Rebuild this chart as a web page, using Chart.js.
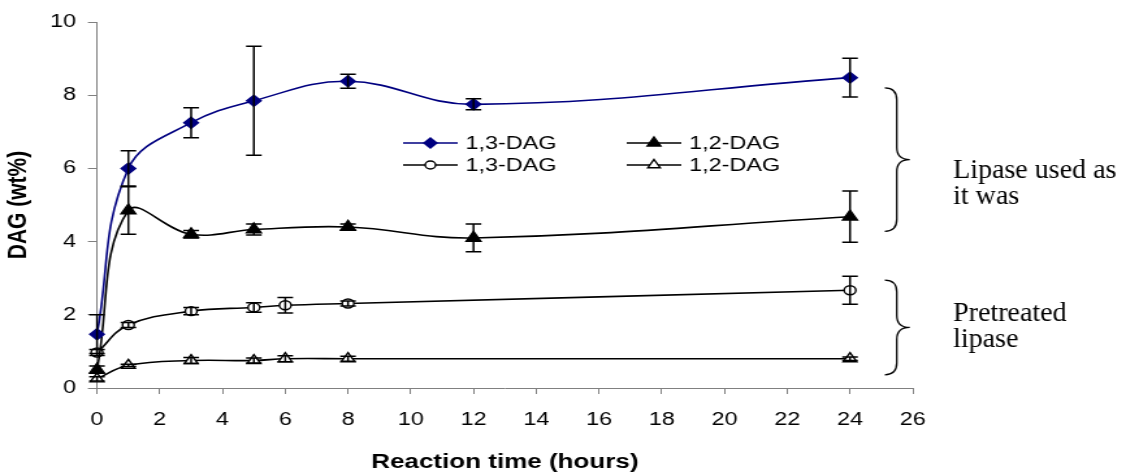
<!DOCTYPE html>
<html>
<head>
<meta charset="utf-8">
<script src="https://cdn.jsdelivr.net/npm/chart.js@4.4.1/dist/chart.umd.min.js"></script>
<style>
  html, body { margin: 0; padding: 0; background: #fff; overflow: hidden; }
</style>
</head>
<body>
<!-- the source picture is stretched sideways, so the canvas is drawn narrow and widened by css -->
<canvas id="chart" width="866" height="472" style="width:1126px;height:472px"></canvas>
<script>
const STRETCH = 1126 / 866;

// lipase used as it was
const asIs13Hours = [0, 1, 3, 5, 8, 12, 24];
const asIs13Values = [1.47, 6.0, 7.25, 7.85, 8.38, 7.75, 8.48];
const asIs13Errors = [0.53, 0.48, 0.41, 1.49, 0.19, 0.15, 0.53];

const asIs12Hours = [0, 1, 3, 5, 8, 12, 24];
const asIs12Values = [0.5, 4.85, 4.2, 4.33, 4.4, 4.1, 4.68];
const asIs12Errors = [0.1, 0.65, 0.1, 0.15, 0.08, 0.38, 0.7];

// pretreated lipase
const pre13Hours = [0, 1, 3, 5, 6, 8, 24];
const pre13Values = [0.97, 1.72, 2.1, 2.2, 2.26, 2.31, 2.67];
const pre13Errors = [0.08, 0.07, 0.1, 0.13, 0.21, 0.07, 0.38];

const pre12Hours = [0, 1, 3, 5, 6, 8, 24];
const pre12Values = [0.25, 0.62, 0.75, 0.75, 0.8, 0.8, 0.8];
const pre12Errors = [0.06, 0.03, 0.08, 0.07, 0.08, 0.07, 0.05];

const xTicks = [0, 2, 4, 6, 8, 10, 12, 14, 16, 18, 20, 22, 24, 26];
const yTicks = [0, 2, 4, 6, 8, 10];

const groupLabels = [["Lipase used as", "it was"], ["Pretreated", "lipase"]];
const groupSpans = [[8.2, 4.28], [2.95, 0.36]]; // DAG range each brace covers

const sans = "'Liberation Sans', Arial, sans-serif";

function toPoints(hours, values) {
  return hours.map((h, i) => ({ x: h, y: values[i] }));
}

function series(label, hours, values, errors, color, style, radius, fill) {
  return {
    label: label,
    data: toPoints(hours, values),
    errors: errors,
    borderColor: color,
    borderWidth: 1.6,
    tension: 0.4,
    pointStyle: style,
    pointRadius: radius,
    pointHoverRadius: radius,
    pointBackgroundColor: fill,
    pointBorderColor: color,
    pointBorderWidth: 1.4,
    clip: false,
  };
}

// vertical error bars with caps, drawn over the markers like the original
const errorBars = {
  id: "errorBars",
  afterDatasetsDraw(chart) {
    const { ctx } = chart;
    const x = chart.scales.x, y = chart.scales.y;
    ctx.save();
    ctx.strokeStyle = "#000";
    ctx.lineWidth = 1.5;
    chart.data.datasets.forEach(ds => {
      ds.data.forEach((pt, i) => {
        const e = ds.errors[i];
        const px = x.getPixelForValue(pt.x);
        const top = y.getPixelForValue(pt.y + e);
        const bot = y.getPixelForValue(pt.y - e);
        ctx.beginPath();
        ctx.moveTo(px, top);
        ctx.lineTo(px, bot);
        ctx.moveTo(px - 6, top);
        ctx.lineTo(px + 6, top);
        ctx.moveTo(px - 6, bot);
        ctx.lineTo(px + 6, bot);
        ctx.stroke();
      });
    });
    ctx.restore();
  }
};

// 2 x 2 legend inside the plot
const boxLegend = {
  id: "boxLegend",
  afterDraw(chart) {
    const { ctx } = chart;
    const cols = [310, 482];
    const rows = [143, 165];
    const order = [[0, 0, 0], [1, 1, 0], [2, 0, 1], [3, 1, 1]]; // dataset, col, row
    ctx.save();
    order.forEach(([d, c, r]) => {
      const ds = chart.data.datasets[d];
      const x0 = cols[c], yy = rows[r];
      ctx.strokeStyle = ds.borderColor;
      ctx.lineWidth = 1.6;
      ctx.beginPath();
      ctx.moveTo(x0, yy);
      ctx.lineTo(x0 + 42, yy);
      ctx.stroke();
      ctx.fillStyle = ds.pointBackgroundColor;
      ctx.strokeStyle = ds.pointBorderColor;
      ctx.lineWidth = ds.pointBorderWidth;
      Chart.helpers.drawPoint(ctx, {
        pointStyle: ds.pointStyle,
        radius: ds.pointRadius - 0.5,
        rotation: 0,
        borderWidth: ds.pointBorderWidth
      }, x0 + 21, yy);
      ctx.fillStyle = "#000";
      ctx.font = "18px " + sans;
      ctx.textAlign = "left";
      ctx.textBaseline = "middle";
      ctx.fillText(ds.label, x0 + 48, yy + 1);
    });
    ctx.restore();
  }
};

// braces and group captions on the right
const captionShift = [18, -6]; // first baseline below the brace tip, px
const groupNotes = {
  id: "groupNotes",
  afterDraw(chart) {
    const { ctx, chartArea } = chart;
    const y = chart.scales.y;
    const hook = chartArea.right - 21.5;
    const spine = chartArea.right - 12.3;
    const tip = chartArea.right - 2.3;
    const r = 12;
    ctx.save();
    ctx.strokeStyle = "#000";
    ctx.lineWidth = 1.3;
    groupSpans.forEach((span, g) => {
      const top = y.getPixelForValue(span[0]);
      const bot = y.getPixelForValue(span[1]);
      const mid = (top + bot) / 2;
      ctx.beginPath();
      ctx.moveTo(hook, top);
      ctx.quadraticCurveTo(spine, top, spine, top + r);
      ctx.lineTo(spine, mid - r);
      ctx.quadraticCurveTo(spine, mid, tip, mid);
      ctx.quadraticCurveTo(spine, mid, spine, mid + r);
      ctx.lineTo(spine, bot - r);
      ctx.quadraticCurveTo(spine, bot, hook, bot);
      ctx.stroke();

      // caption text is not stretched in the source, so undo the css widening
      ctx.save();
      ctx.translate(chartArea.right + 31, mid);
      ctx.scale(1 / STRETCH, 1);
      ctx.fillStyle = "#000";
      ctx.font = "28px 'Liberation Serif', 'Times New Roman', serif";
      ctx.textAlign = "left";
      ctx.textBaseline = "alphabetic";
      groupLabels[g].forEach((line, k) => {
        ctx.fillText(line, 0, captionShift[g] + k * 26);
      });
      ctx.restore();
    });
    ctx.restore();
  }
};

const navy = "#000080";

new Chart(document.getElementById("chart"), {
  type: "line",
  data: {
    datasets: [
      series("1,3-DAG", asIs13Hours, asIs13Values, asIs13Errors, navy, "rectRot", 5.5, navy),
      series("1,2-DAG", asIs12Hours, asIs12Values, asIs12Errors, "#000", "triangle", 6.5, "#000"),
      series("1,3-DAG", pre13Hours, pre13Values, pre13Errors, "#000", "circle", 4.5, "#fff"),
      series("1,2-DAG", pre12Hours, pre12Values, pre12Errors, "#000", "triangle", 6, "#fff"),
    ]
  },
  options: {
    responsive: false,
    devicePixelRatio: 1,
    animation: false,
    layout: { padding: { left: 0, right: 164, top: 22, bottom: 0 } },
    plugins: {
      legend: { display: false },
      tooltip: { enabled: false },
    },
    scales: {
      x: {
        type: "linear",
        min: 0,
        max: 26,
        afterBuildTicks: scale => { scale.ticks = xTicks.map(v => ({ value: v })); },
        afterFit: scale => { scale.height = 84; },
        grid: { drawOnChartArea: false, drawTicks: true, tickLength: 6, color: "#808080", lineWidth: 1 },
        border: { display: true, color: "#808080", width: 1 },
        ticks: { color: "#000", padding: 15, maxRotation: 0, font: { family: sans, size: 18 } },
        title: {
          display: true,
          text: "Reaction time (hours)",
          color: "#000",
          padding: { top: 0, bottom: 0 },
          font: { family: sans, size: 20, weight: "bold", lineHeight: 1 }
        }
      },
      y: {
        min: 0,
        max: 10,
        afterBuildTicks: scale => { scale.ticks = yTicks.map(v => ({ value: v })); },
        afterFit: scale => { scale.width = 74.6; },
        grid: { drawOnChartArea: false, drawTicks: true, tickLength: 7, color: "#808080", lineWidth: 1 },
        border: { display: true, color: "#808080", width: 1 },
        ticks: { color: "#000", padding: 9, font: { family: sans, size: 18 } },
        title: {
          display: true,
          text: "DAG (wt%)",
          color: "#000",
          padding: { top: 4, bottom: 0 },
          font: { family: sans, size: 21, weight: "bold", lineHeight: 1 }
        }
      }
    }
  },
  plugins: [errorBars, boxLegend, groupNotes]
});
</script>
</body>
</html>
